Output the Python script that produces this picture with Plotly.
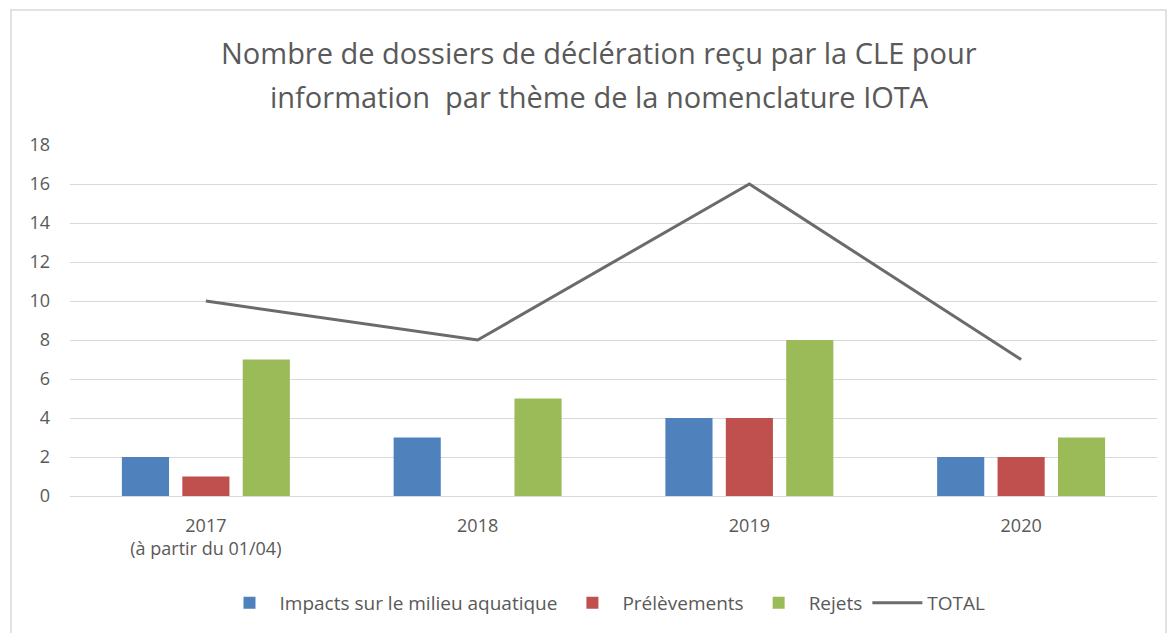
import plotly.graph_objects as go

categories = ["2017<br>(à partir du 01/04)", "2018", "2019", "2020"]
impacts = [2, 3, 4, 2]
prelevements = [1, 0, 4, 2]
rejets = [7, 5, 8, 3]
total = [10, 8, 16, 7]
y_ticks = [0, 2, 4, 6, 8, 10, 12, 14, 16, 18]

title_line1 = "Nombre de dossiers de déclération reçu par la CLE pour"
title_line2 = "information  par thème de la nomenclature IOTA"

FONT = "Open Sans"
TXT = "#595959"

fig = go.Figure()
fig.add_trace(go.Bar(x=categories, y=impacts, name="Impacts sur le milieu aquatique",
                     marker=dict(color="#4F81BD", line=dict(width=0))))
fig.add_trace(go.Bar(x=categories, y=prelevements, name="Prélèvements",
                     marker=dict(color="#C0504D", line=dict(width=0))))
fig.add_trace(go.Bar(x=categories, y=rejets, name="Rejets",
                     marker=dict(color="#9BBB59", line=dict(width=0))))
fig.add_trace(go.Scatter(x=categories, y=total, name="TOTAL", mode="lines",
                         line=dict(color="#6b6b6b", width=3)))

L, R, T, B = 70, 13, 145, 137
W, H = 1170, 633
ph = H - T - B
pw = W - L - R

def py(pix):
    return (H - B - pix) / ph

def px(pix):
    return (pix - L) / pw

fig.add_annotation(text=title_line1, x=px(599), y=py(53), xref="paper", yref="paper",
                   showarrow=False, font=dict(family=FONT, size=29, color=TXT),
                   xanchor="center", yanchor="middle")
fig.add_annotation(text=title_line2, x=px(599), y=py(96), xref="paper", yref="paper",
                   showarrow=False, font=dict(family=FONT, size=29, color=TXT),
                   xanchor="center", yanchor="middle")

fig.add_shape(type="rect", xref="paper", yref="paper",
              x0=px(11), x1=px(1166), y0=py(640), y1=py(10),
              line=dict(color="#d9d9d9", width=1.5), fillcolor="rgba(0,0,0,0)", layer="below")

fig.update_layout(
    width=W, height=H,
    margin=dict(l=L, r=R, t=T, b=B, autoexpand=False),
    paper_bgcolor="white", plot_bgcolor="white",
    barmode="group", bargap=0.333, bargroupgap=0.22,
    font=dict(family=FONT, size=19, color=TXT),
    showlegend=True,
    legend=dict(orientation="h", x=px(605), xanchor="center", y=py(603), yanchor="middle",
                font=dict(family=FONT, size=19, color=TXT), itemwidth=50,
                traceorder="normal"),
)
fig.update_xaxes(showgrid=False, showline=True, linecolor="#d9d9d9", linewidth=1,
                 ticks="", ticklabelstandoff=13,
                 tickfont=dict(family=FONT, size=18, color=TXT))
fig.update_yaxes(range=[0, 18], tickvals=y_ticks, showgrid=True, gridcolor="#d9d9d9",
                 gridwidth=1, zeroline=False, showline=False, ticks="",
                 ticklabelstandoff=19,
                 tickfont=dict(family=FONT, size=18, color=TXT))

fig.write_html("out.html")
